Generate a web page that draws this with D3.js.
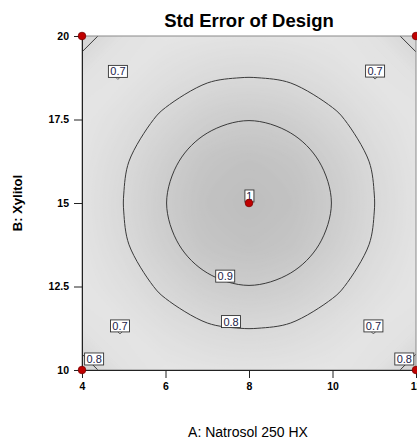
<!DOCTYPE html>
<html>
<head>
<meta charset="utf-8">
<script src="https://cdn.jsdelivr.net/npm/d3@7"></script>
<style>
  body { margin: 0; background: #fff; }
  svg { display: block; font-family: Arial, "Liberation Sans", sans-serif; }
</style>
</head>
<body>
<svg width="417" height="439"></svg>
<script>
// std error grid: columns A = 4..12, rows B = 20 down to 10
var grid_a = [4, 5, 6, 7, 8, 9, 10, 11, 12];
var grid_b = [20, 18.75, 17.5, 16.25, 15, 13.75, 12.5, 11.25, 10];
var se_grid = [
  [0.840, 0.735, 0.710, 0.722, 0.728, 0.722, 0.710, 0.735, 0.840],
  [0.735, 0.716, 0.755, 0.789, 0.803, 0.789, 0.755, 0.716, 0.735],
  [0.710, 0.755, 0.818, 0.876, 0.898, 0.876, 0.818, 0.755, 0.710],
  [0.722, 0.789, 0.876, 0.950, 0.975, 0.950, 0.876, 0.789, 0.722],
  [0.728, 0.803, 0.898, 0.975, 1.000, 0.975, 0.898, 0.803, 0.728],
  [0.722, 0.789, 0.876, 0.950, 0.975, 0.950, 0.876, 0.789, 0.722],
  [0.710, 0.755, 0.818, 0.876, 0.898, 0.876, 0.818, 0.755, 0.710],
  [0.735, 0.716, 0.755, 0.789, 0.803, 0.789, 0.755, 0.716, 0.735],
  [0.840, 0.735, 0.710, 0.722, 0.728, 0.722, 0.710, 0.735, 0.840]
];
var line_levels = [0.8, 0.9];

// design points
var design_a = [4, 4, 12, 12, 8];
var design_b = [10, 20, 10, 20, 15];

// contour labels
var label_text = ["0.7", "0.7", "0.7", "0.7", "0.8", "0.8", "0.9", "0.8", "1"];
var label_a = [4.86, 11.02, 4.91, 10.98, 4.29, 11.72, 7.43, 7.57, 8.01];
var label_b = [18.94, 18.95, 11.32, 11.32, 10.33, 10.33, 12.81, 11.45, 15.21];
var label_flag = [true, true, true, true, false, false, false, false, false];

var x_ticks = [4, 6, 8, 10, 12];
var y_ticks = [10, 12.5, 15, 17.5, 20];

const LEFT = 82, RIGHT = 416, TOP = 36, BOTTOM = 370;
var svg = d3.select("svg");
var x_scaleplot = d3.scaleLinear().domain([4, 12]).range([LEFT, RIGHT]);
var y_scaleplot = d3.scaleLinear().domain([10, 20]).range([BOTTOM, TOP]);

svg.append("defs").append("clipPath").attr("id", "plotclip")
  .append("rect").attr("x", LEFT).attr("y", TOP)
  .attr("width", RIGHT - LEFT).attr("height", BOTTOM - TOP);

var shade = d3.interpolateRgb("#e6e6e6", "#bebebe");
function grey(v) { return shade((v - 0.70) / 0.30); }

var NA = grid_a.length, NB = grid_b.length;
var step_a = grid_a[1] - grid_a[0];
var step_b = grid_b[1] - grid_b[0];
function to_px(p) {
  return [x_scaleplot(grid_a[0] + (p[0] - 0.5) * step_a),
          y_scaleplot(grid_b[0] + (p[1] - 0.5) * step_b)];
}
// drop ring points that sit too close together, so the curve stays smooth
function thin(ring) {
  var out = [ring[0]];
  for (var k = 1; k < ring.length - 1; k++) {
    var last = out[out.length - 1];
    if (Math.hypot(ring[k][0] - last[0], ring[k][1] - last[1]) > 0.35) out.push(ring[k]);
  }
  return out;
}
function on_edge(ring) {
  return ring.some(function (p) {
    return p[0] <= 0 || p[1] <= 0 || p[0] >= NA || p[1] >= NB;
  });
}
var ring_line = d3.line().curve(d3.curveCatmullRomClosed.alpha(0.5));
var edge_line = d3.line().curve(d3.curveLinearClosed);
function contour_path(c) {
  var s = "";
  c.coordinates.forEach(function (poly) {
    poly.forEach(function (ring) {
      if (on_edge(ring)) s += edge_line(ring.slice(0, -1).map(to_px));
      else s += ring_line(thin(ring).map(to_px));
    });
  });
  return s;
}

var flat = [].concat.apply([], se_grid);
var contour_gen = d3.contours().size([NA, NB]);

var plot = svg.append("g").attr("clip-path", "url(#plotclip)");
plot.append("rect").attr("x", LEFT).attr("y", TOP)
  .attr("width", RIGHT - LEFT).attr("height", BOTTOM - TOP)
  .attr("fill", grey(0.70));

// shading bands
plot.selectAll("path.band")
  .data(contour_gen.thresholds(d3.range(0.705, 1.0, 0.005))(flat))
  .enter().append("path")
  .attr("class", "band")
  .attr("d", contour_path)
  .attr("fill", function (d) { return grey(d.value); });

// contour lines
plot.selectAll("path.iso")
  .data(contour_gen.thresholds(line_levels)(flat))
  .enter().append("path")
  .attr("class", "iso")
  .attr("d", contour_path)
  .attr("fill", "none")
  .attr("stroke", "#3a3a3a")
  .attr("stroke-width", 1);

// border + axes
svg.append("rect").attr("x", LEFT).attr("y", TOP)
  .attr("width", RIGHT - LEFT).attr("height", BOTTOM - TOP)
  .attr("fill", "none").attr("stroke", "#8a8a8a");

var xAxis = d3.axisBottom(x_scaleplot).tickValues(x_ticks).tickSize(8).tickPadding(5)
  .tickFormat(function (d) { return String(d); });
var yAxis = d3.axisLeft(y_scaleplot).tickValues(y_ticks).tickSize(8).tickPadding(5)
  .tickFormat(function (d) { return String(d); });
svg.append("g").attr("id", "xaxis").attr("transform", "translate(0," + BOTTOM + ")").call(xAxis);
svg.append("g").attr("id", "yaxis").attr("transform", "translate(" + LEFT + ",0)").call(yAxis);
svg.selectAll("#xaxis path.domain, #yaxis path.domain").attr("stroke", "#222");
svg.selectAll(".tick line").attr("stroke", "#222");
svg.selectAll(".tick text")
  .attr("fill", "#000")
  .style("font-size", "10.5px")
  .style("font-weight", "bold")
  .style("font-family", "Arial, 'Liberation Sans', sans-serif");

// labels
var lab = svg.append("g").attr("clip-path", "url(#plotclip)")
  .selectAll("g").data(label_text).enter().append("g")
  .attr("transform", function (d, i) {
    return "translate(" + x_scaleplot(label_a[i]) + "," + y_scaleplot(label_b[i]) + ")";
  });
lab.filter(function (d, i) { return label_flag[i]; })
  .append("path")
  .attr("d", "M-3,5 L0,8 L3,5")
  .attr("fill", "#fff").attr("stroke", "#333").attr("stroke-width", 0.8);
lab.append("rect")
  .attr("x", function (d) { return d.length > 1 ? -9.5 : -4.5; })
  .attr("y", -6)
  .attr("width", function (d) { return d.length > 1 ? 19 : 9; })
  .attr("height", 12)
  .attr("fill", "#fff").attr("stroke", "#333").attr("stroke-width", 0.9);
lab.append("text")
  .attr("text-anchor", "middle")
  .attr("y", 4)
  .attr("fill", "#22224a")
  .style("font-size", "11px")
  .text(function (d) { return d; });

// design points
svg.selectAll("circle.pt")
  .data(design_a).enter().append("circle")
  .attr("class", "pt")
  .attr("cx", function (d) { return x_scaleplot(d); })
  .attr("cy", function (d, i) { return y_scaleplot(design_b[i]); })
  .attr("r", 3.8)
  .attr("fill", "#c00000")
  .attr("stroke", "#7a0000")
  .attr("stroke-width", 0.8);

// titles
svg.append("text")
  .attr("x", 249).attr("y", 27)
  .attr("text-anchor", "middle")
  .style("font-size", "18.5px").style("font-weight", "bold")
  .text("Std Error of Design");

svg.append("text")
  .attr("transform", "translate(22,203) rotate(-90)")
  .attr("text-anchor", "middle")
  .style("font-size", "13px").style("font-weight", "bold")
  .text("B: Xylitol");

svg.append("text")
  .attr("x", 248).attr("y", 437)
  .attr("text-anchor", "middle")
  .style("font-size", "14px")
  .text("A: Natrosol 250 HX");
</script>
</body>
</html>
